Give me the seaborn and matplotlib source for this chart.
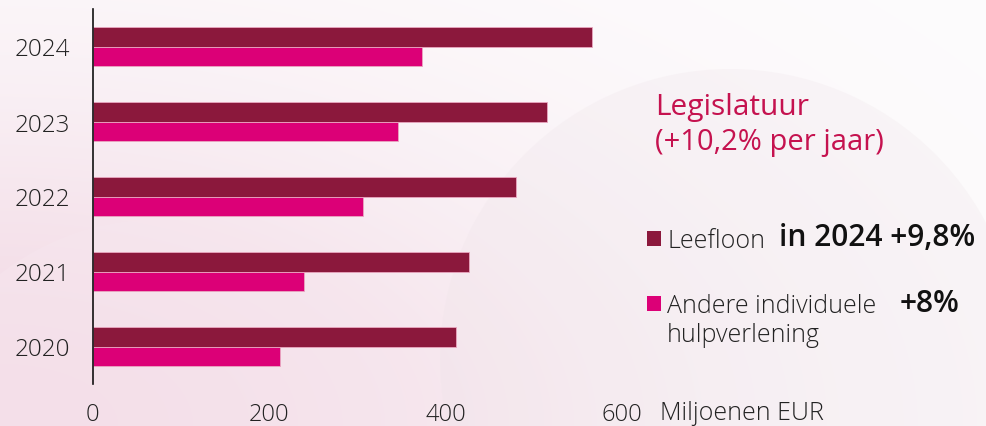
import matplotlib
matplotlib.use("Agg")
import matplotlib.pyplot as plt
from matplotlib.patches import Circle
import numpy as np
import seaborn as sns
import pandas as pd

# values (miljoenen EUR)
years = ["2024", "2023", "2022", "2021", "2020"]
leefloon = [566, 515, 480, 427, 412]
andere = [373, 346, 307, 240, 212]
series = ["Leefloon", "Andere individuele"]
colors = ["#8B183C", "#DC0077"]
xticks = [0, 200, 400, 600]

df = pd.DataFrame({
    "jaar": years * 2,
    "waarde": leefloon + andere,
    "reeks": [series[0]] * len(years) + [series[1]] * len(years),
})

sns.set_style("white")
plt.rcParams["font.family"] = ["Open Sans", "DejaVu Sans"]

W, H = 986, 427
fig = plt.figure(figsize=(W / 100, H / 100), dpi=100, facecolor="#FCFAFB")

# soft pink background (decoration only)
bg = fig.add_axes([0, 0, 1, 1], zorder=-10)
bg.set_xlim(0, W)
bg.set_ylim(H, 0)
bg.axis("off")
xx, yy = np.meshgrid(np.arange(W), np.arange(H))
p = np.exp(-((xx / 620) ** 2 + ((H - yy) / 330) ** 2))
white = np.array([0.992, 0.988, 0.992])
pink = np.array([0.95, 0.85, 0.895])
img = white[None, None, :] * (1 - p[..., None]) + pink[None, None, :] * p[..., None]
bg.imshow(img, extent=(0, W, H, 0), aspect="auto", zorder=0)
bg.add_patch(Circle((730, 360), 290, facecolor="#EDE3E8", edgecolor="none", alpha=0.25, zorder=1))
bg.add_patch(Circle((160, 480), 260, facecolor="#F6E6EE", edgecolor="none", alpha=0.5, zorder=1))

ax = fig.add_axes([92.5 / W, 42 / H, 529.5 / W, 375 / H])
ax.set_facecolor("none")

sns.barplot(data=df, y="jaar", x="waarde", hue="reeks", order=years,
            hue_order=series, palette=colors, orient="h", width=0.52,
            saturation=1, edgecolor="#E9A7C0", linewidth=0.6, ax=ax)

ax.set_xlim(0, 600)
ax.set_ylim(4.5, -0.5)
ax.set_xticks(xticks)
ax.set_xticklabels([str(t) for t in xticks])
ax.set_xlabel("")
ax.set_ylabel("")
ax.tick_params(axis="x", length=0, pad=13, labelsize=17, labelcolor="#222222")
ax.tick_params(axis="y", length=0, pad=16, labelsize=17.5, labelcolor="#222222")
for lab in ax.get_xticklabels() + ax.get_yticklabels():
    lab.set_fontweight("light")
for s in ["top", "right", "bottom"]:
    ax.spines[s].set_visible(False)
ax.spines["left"].set_color("#111111")
ax.spines["left"].set_linewidth(1.2)

fig.text(660 / W, 1 - 414 / H, "Miljoenen EUR", fontsize=18, color="#222222",
         va="center", ha="left", fontweight="light")

# legend
handles, labels = ax.get_legend_handles_labels()
leg = ax.legend(handles, labels, loc="upper left", bbox_to_anchor=(647 / W, 1 - 229 / H),
                bbox_transform=fig.transFigure, frameon=False, fontsize=18,
                handlelength=0.56, handleheight=0.56, handletextpad=0.25,
                labelspacing=1.61, borderpad=0, borderaxespad=0)
for t in leg.get_texts():
    t.set_color("#222222")
    t.set_fontweight("light")
for h in leg.legend_handles:
    h.set_edgecolor("none")
fig.text(667 / W, 1 - 336 / H, "hulpverlening", fontsize=18, color="#222222",
         va="center", ha="left", fontweight="light")

fig.text(655 / W, 1 - 108 / H, "Legislatuur", fontsize=21.5, color="#C5124F",
         va="center", ha="left")
fig.text(655 / W, 1 - 143 / H, "(+10,2% per jaar)", fontsize=21, color="#C5124F",
         va="center", ha="left")
fig.text(779 / W, 1 - 238 / H, "in 2024 +9,8%", fontsize=21.5, color="#111111",
         va="center", ha="left", fontweight="semibold")
fig.text(900 / W, 1 - 304 / H, "+8%", fontsize=21.5, color="#111111",
         va="center", ha="left", fontweight="semibold")

fig.savefig("out.png", dpi=100, facecolor=fig.get_facecolor())
